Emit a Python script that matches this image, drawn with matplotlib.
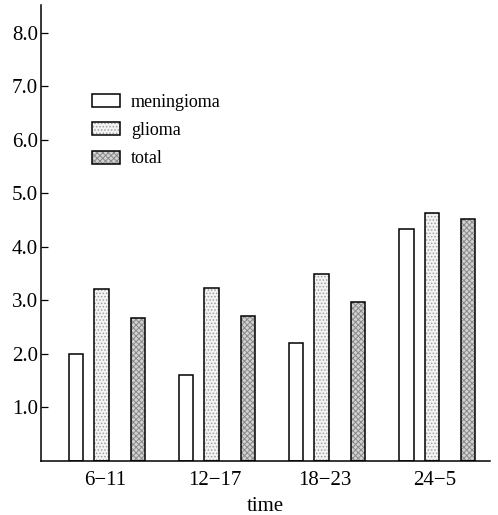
import numpy as np
import matplotlib
matplotlib.use('Agg')
import matplotlib.pyplot as plt

plt.rcParams['font.family'] = ['Liberation Serif', 'DejaVu Serif']
plt.rcParams['hatch.linewidth'] = 0.7

times = ['6\u221211', '12\u221217', '18\u221223', '24\u22125']
meningioma = [2.0, 1.61, 2.21, 4.33]
glioma = [3.22, 3.24, 3.50, 4.64]
total = [2.68, 2.70, 2.98, 4.53]
yticks = [1.0, 2.0, 3.0, 4.0, 5.0, 6.0, 7.0, 8.0]

ind = np.arange(len(times))
width = 0.13

fig = plt.figure(figsize=(4.98, 5.15), dpi=100)
ax = fig.add_axes([0.082, 0.105, 0.902, 0.885])

h1 = ax.bar(ind - 0.26, meningioma, width, color='white', edgecolor='black',
            linewidth=1.1)
g_fill = ax.bar(ind - 0.03, glioma, width, color='#f3f3f3', edgecolor='#a0a0a0',
                linewidth=0, hatch='.....')
g_line = ax.bar(ind - 0.03, glioma, width, fill=False, edgecolor='black',
                linewidth=1.1)
t_fill = ax.bar(ind + 0.30, total, width, color='#d2d2d2', edgecolor='#8a8a8a',
                linewidth=0, hatch='xxxxxx')
t_line = ax.bar(ind + 0.30, total, width, fill=False, edgecolor='black',
                linewidth=1.1)

ax.set_xlim(-0.58, 3.5)
ax.set_ylim(0, 8.52)
ax.set_xticks(ind)
ax.set_xticklabels(times, fontsize=15)
ax.set_yticks(yticks)
ax.set_yticklabels(['%.1f' % v for v in yticks], fontsize=15)
ax.tick_params(axis='y', direction='in', length=5, width=0.9, pad=2)
ax.tick_params(axis='x', length=0, pad=7)
ax.set_xlabel('time', fontsize=15, labelpad=5)
for s in ['top', 'right']:
    ax.spines[s].set_visible(False)
ax.spines['left'].set_linewidth(1.1)
ax.spines['bottom'].set_linewidth(1.1)

ax.legend([h1[0], (g_fill[0], g_line[0]), (t_fill[0], t_line[0])],
          ['meningioma', 'glioma', 'total'],
          loc='upper left', bbox_to_anchor=(0.114, 0.805), frameon=False,
          borderaxespad=0, borderpad=0,
          fontsize=13, handlelength=1.55, handleheight=0.72,
          labelspacing=0.62, handletextpad=0.6)

plt.savefig('out.png', dpi=100)
